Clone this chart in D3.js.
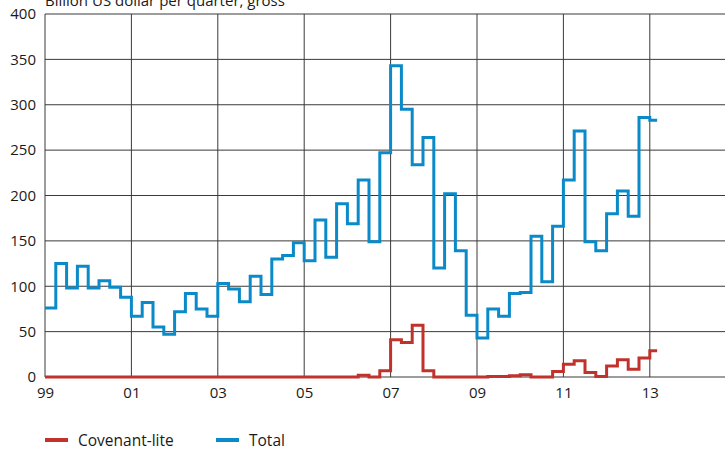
<!DOCTYPE html>
<html>
<head>
<meta charset="utf-8">
<script src="https://cdn.jsdelivr.net/npm/d3@7/dist/d3.min.js"></script>
<style>
  html, body { margin: 0; padding: 0; background: #fff; }
  svg { display: block; }
  text { font-family: "Open Sans", sans-serif; fill: #1a1a1a; }
</style>
</head>
<body>
<svg id="chart" width="725" height="451"></svg>
<script>
// Quarterly data, 1999Q1 .. 2013Q1 (billion US dollar per quarter, gross)
const startYear = 1999;
const totalValues = [
  76, 125, 98, 122,      // 1999
  98, 106, 99, 88,       // 2000
  67, 82, 55, 47,        // 2001
  72, 92, 75, 67,        // 2002
  103, 97, 83, 111,      // 2003
  91, 130, 134, 148,     // 2004
  128, 173, 132, 191,    // 2005
  169, 217, 149, 247,    // 2006
  343, 295, 234, 264,    // 2007
  120, 202, 139, 68,     // 2008
  43, 75, 67, 92,        // 2009
  93, 155, 105, 166,     // 2010
  217, 271, 149, 139,    // 2011
  180, 205, 177, 286,    // 2012
  283                    // 2013
];
const covLiteValues = [
  0, 0, 0, 0,
  0, 0, 0, 0,
  0, 0, 0, 0,
  0, 0, 0, 0,
  0, 0, 0, 0,
  0, 0, 0, 0,
  0, 0, 0, 0,
  0, 2, 0, 7,
  41, 38, 57, 7,
  0, 0, 0, 0,
  0, 0.5, 0.5, 1.5,
  2.5, 0, 0, 6,
  14, 18, 5, 0.5,
  12, 19, 8.5, 21,
  29
];
const yTicks = [0, 50, 100, 150, 200, 250, 300, 350, 400];
const xTickYears = [1999, 2001, 2003, 2005, 2007, 2009, 2011, 2013];
const xTickLabels = ["99", "01", "03", "05", "07", "09", "11", "13"];
const seriesNames = ["Covenant-lite", "Total"];
const seriesColors = ["#c1322d", "#0a8ac8"];
const yTitle = "Billion US dollar per quarter, gross";

const svg = d3.select("#chart");
const plotLeft = 45, plotTop = 14, plotBottom = 377;
const x = d3.scaleLinear().domain([1999, 2015]).range([plotLeft, plotLeft + 16 * 43.2]);
const y = d3.scaleLinear().domain([0, 400]).range([plotBottom, plotTop]);

// grid
const grid = svg.append("g");
grid.selectAll("line.h").data(yTicks).enter().append("line")
  .attr("x1", plotLeft).attr("x2", 725)
  .attr("y1", d => y(d)).attr("y2", d => y(d))
  .attr("stroke", "#3a3a3a").attr("stroke-width", 1);
grid.selectAll("line.v").data(xTickYears).enter().append("line")
  .attr("x1", d => x(d)).attr("x2", d => x(d))
  .attr("y1", plotTop).attr("y2", plotBottom)
  .attr("stroke", "#3a3a3a").attr("stroke-width", 1);

// axes (labels only)
const yAxis = d3.axisLeft(y).tickValues(yTicks).tickSize(0).tickPadding(9);
const yg = svg.append("g").attr("transform", `translate(${plotLeft},0)`).call(yAxis);
yg.select(".domain").remove();
yg.selectAll("text").style("font-size", "15px").style("font-family", "'Open Sans', sans-serif").attr("fill", "#1a1a1a");

const xAxis = d3.axisBottom(x).tickValues(xTickYears).tickSize(0).tickPadding(10)
  .tickFormat((d, i) => xTickLabels[i]);
const xg = svg.append("g").attr("transform", `translate(0,${plotBottom})`).call(xAxis);
xg.select(".domain").remove();
xg.selectAll("text").style("font-size", "15px").style("font-family", "'Open Sans', sans-serif").attr("fill", "#1a1a1a");

// title (partly cut off at the top, as in the reference)
svg.append("text").attr("x", plotLeft).attr("y", 6).style("font-size", "15px").text(yTitle);

// lines
function toPoints(vals) {
  const pts = vals.map((v, i) => ({ t: startYear + i / 4, v }));
  pts.push({ t: startYear + (vals.length - 1) / 4 + 0.17, v: vals[vals.length - 1] });
  return pts;
}
const line = d3.line().x(d => x(d.t)).y(d => y(d.v)).curve(d3.curveStepAfter);
[covLiteValues, totalValues].forEach((vals, k) => {
  svg.append("path").datum(toPoints(vals))
    .attr("d", line).attr("fill", "none")
    .attr("stroke", seriesColors[k]).attr("stroke-width", 3)
    .attr("stroke-linejoin", "miter");
});

// legend
const legendX = [45, 216];
seriesNames.forEach((name, k) => {
  const g = svg.append("g").attr("transform", `translate(${legendX[k]},440)`);
  g.append("line").attr("x1", 0).attr("x2", 23).attr("y1", 0).attr("y2", 0)
    .attr("stroke", seriesColors[k]).attr("stroke-width", 4);
  g.append("text").attr("x", 33).attr("y", 6).style("font-size", "15.5px").text(name);
});
</script>
</body>
</html>
